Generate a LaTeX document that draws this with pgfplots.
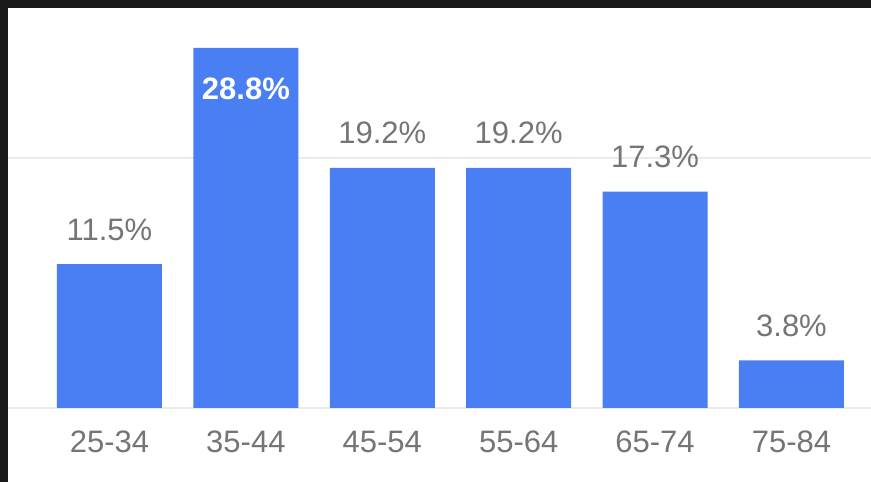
\documentclass[border=0pt]{standalone}
\usepackage{fontspec}
\setmainfont{Liberation Sans}
\usepackage{pgfplots}
\pgfplotsset{compat=1.18}
\definecolor{barblue}{HTML}{4A7FF4}
\definecolor{lbl}{HTML}{757575}
\definecolor{gridc}{HTML}{EBEBEB}
\definecolor{framec}{HTML}{1A1A1A}
\begin{document}
\begin{tikzpicture}
\useasboundingbox (0,0) rectangle (871pt,482pt);
\fill[framec] (0,0) rectangle (871pt,482pt);
\fill[white] (8pt,0) rectangle (871pt,474pt);
\begin{axis}[
 at={(8pt,74pt)}, anchor=south west,
 scale only axis, width=863pt, height=400pt,
 xmin=-0.744, xmax=5.583, ymin=0, ymax=32,
 axis line style={draw=none},
 ytick={0,20}, yticklabels={}, ymajorgrids,
 grid style={gridc, line width=2pt},
 xtick={0,...,5}, xticklabels={25-34,35-44,45-54,55-64,65-74,75-84},
 major tick length=0pt,
 xticklabel style={anchor=base, inner sep=0pt, yshift=-45pt, text=lbl, font=\fontsize{31}{37}\selectfont},
 clip=false,
]
\addplot[ybar, bar width=105pt, fill=barblue, draw=none] coordinates {(0,11.5) (1,28.8) (2,19.2) (3,19.2) (4,17.3) (5,3.8)};
\addplot[draw=none, nodes near coords, point meta=explicit symbolic,
 nodes near coords style={anchor=base, inner sep=0pt, yshift=24pt, text=lbl, font=\fontsize{31}{37}\selectfont}]
 coordinates {(0,11.5) [11.5\%] (2,19.2) [19.2\%] (3,19.2) [19.2\%] (4,17.3) [17.3\%] (5,3.8) [3.8\%]};
\addplot[draw=none, nodes near coords, point meta=explicit symbolic,
 nodes near coords style={anchor=base, inner sep=0pt, yshift=-52pt, text=white, font=\fontsize{31}{37}\selectfont\bfseries}]
 coordinates {(1,28.8) [28.8\%]};
\end{axis}
\end{tikzpicture}
\end{document}
